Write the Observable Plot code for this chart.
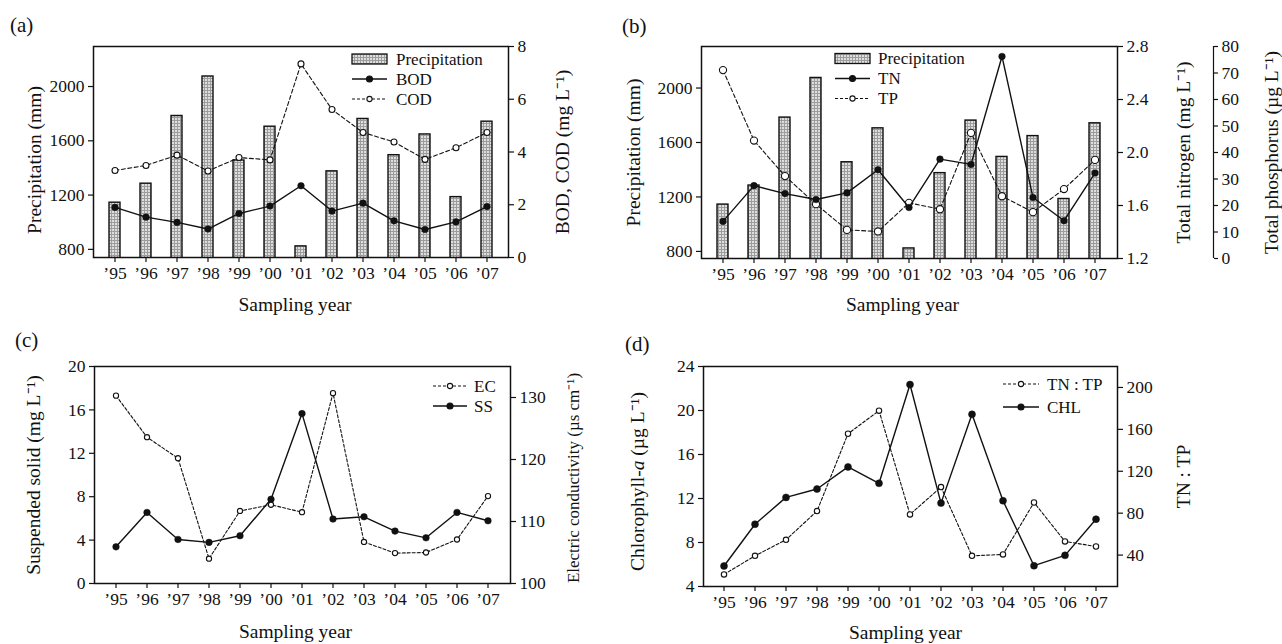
<!DOCTYPE html>
<html>
<head>
<meta charset="utf-8">
<script src="https://cdn.jsdelivr.net/npm/d3@7"></script>
<script src="https://cdn.jsdelivr.net/npm/@observablehq/plot@0.6"></script>
<style>
html, body { margin: 0; padding: 0; background: #fff; }
#chart { position: relative; width: 1282px; height: 644px; background: #fff; font-family: 'Liberation Serif', serif; color: #111; overflow: hidden; }
#chart svg { position: absolute; }
.lab { position: absolute; font-size: 21px; line-height: 21px; font-family: 'Liberation Serif', serif; color: #111; }
</style>
</head>
<body>
<div id="chart"></div>
<script>
// ---------------- data ----------------
const years = [1995, 1996, 1997, 1998, 1999, 2000, 2001, 2002, 2003, 2004, 2005, 2006, 2007];
const precipitation = [1144, 1284, 1783, 2074, 1455, 1704, 822, 1375, 1761, 1494, 1647, 1185, 1741];
const bod = [1.90, 1.53, 1.33, 1.08, 1.67, 1.95, 2.72, 1.76, 2.06, 1.39, 1.06, 1.35, 1.93];
const cod = [3.30, 3.49, 3.88, 3.28, 3.79, 3.70, 7.34, 5.61, 4.74, 4.38, 3.72, 4.16, 4.74];
const tn = [1.48, 1.75, 1.69, 1.645, 1.695, 1.87, 1.585, 1.95, 1.91, 2.725, 1.66, 1.485, 1.845];
const tp = [71.1, 44.5, 31.1, 20.5, 10.8, 10.2, 21.0, 18.6, 47.4, 23.5, 17.5, 26.2, 37.2];
const ss = [3.38, 6.55, 4.06, 3.79, 4.40, 7.76, 15.66, 5.94, 6.15, 4.83, 4.21, 6.55, 5.78];
const ec = [130.3, 123.6, 120.2, 104.0, 111.7, 112.7, 111.5, 130.7, 106.7, 104.9, 105.0, 107.1, 114.1];
const chl = [5.86, 9.66, 12.10, 12.86, 14.87, 13.38, 22.36, 11.58, 19.65, 11.80, 5.89, 6.83, 10.12];
const tntp = [21.5, 39.3, 54.6, 82.0, 155.8, 177.8, 78.8, 104.9, 39.3, 40.6, 90.2, 53.0, 48.2];

const precipTicks = [800, 1200, 1600, 2000];
const bodTicks = [0, 2, 4, 6, 8];
const tnTicks = [1.2, 1.6, 2.0, 2.4, 2.8];
const tpTicks = [0, 10, 20, 30, 40, 50, 60, 70, 80];
const ssTicks = [0, 4, 8, 12, 16, 20];
const ecTicks = [100, 110, 120, 130];
const chlTicks = [4, 8, 12, 16, 20, 24];
const tntpTicks = [40, 80, 120, 160, 200];

const rows = years.map((year, i) => ({
  year, precipitation: precipitation[i], bod: bod[i], cod: cod[i], tn: tn[i], tp: tp[i],
  ss: ss[i], ec: ec[i], chl: chl[i], tntp: tntp[i]
}));

// ---------------- helpers ----------------
const chart = document.getElementById("chart");
const INK = "#111";
const FONT = "'Liberation Serif', serif";

// pattern for stippled bars
const defs = d3.select(chart).append("svg").attr("width", 1).attr("height", 1).style("left", "0px").style("top", "0px");
const pat = defs.append("defs").append("pattern").attr("id", "stipple")
  .attr("patternUnits", "userSpaceOnUse").attr("width", 3).attr("height", 3);
pat.append("rect").attr("width", 3).attr("height", 3).attr("fill", "#dedede");
pat.append("rect").attr("width", 3).attr("height", 1).attr("fill", "#9c9c9c");
pat.append("rect").attr("width", 1).attr("height", 3).attr("fill", "#9c9c9c");

const baseStyle = { background: "transparent", fontFamily: FONT, fontSize: "17px", color: INK, overflow: "visible" };
const xBand = { type: "band", domain: years, paddingInner: 0.645, paddingOuter: 0.325, label: null };
const tickFmt = d => "\u2019" + String(d).slice(2);
const intFmt = d3.format("d");

function layer(left, top, opts) {
  const svg = Plot.plot({ style: { ...baseStyle }, ...opts });
  svg.style.position = "absolute";
  svg.style.left = left + "px";
  svg.style.top = top + "px";
  chart.appendChild(svg);
  return svg;
}

const axisCommon = { tickSize: 5, tickPadding: 4, label: null, stroke: INK, strokeWidth: 1.2, fill: INK, fontSize: 17.5 };
const title = (txt, o) => Plot.text([txt], { text: d => d, fill: INK, textAnchor: "middle", lineAnchor: "middle", fontSize: 19.5, ...o });
const solid = (key, r = 3.3) => [
  Plot.line(rows, { x: "year", y: key, stroke: INK, strokeWidth: 1.4 }),
  Plot.dot(rows, { x: "year", y: key, r, fill: INK, stroke: INK, strokeWidth: 0.5 })
];
const dashed = (key, r = 3, dash = "4,2.5") => [
  Plot.line(rows, { x: "year", y: key, stroke: INK, strokeWidth: 1.1, strokeDasharray: dash }),
  Plot.dot(rows, { x: "year", y: key, r, fill: "#fff", stroke: INK, strokeWidth: 1.1 })
];

// panel geometries
const gA = { width: 640, height: 322, marginLeft: 93, marginRight: 132, marginTop: 46, marginBottom: 65 };
const gB = { width: 642, height: 322, marginLeft: 61, marginRight: 165, marginTop: 46, marginBottom: 64 };
const gC = { width: 640, height: 322, marginLeft: 94, marginRight: 130, marginTop: 44, marginBottom: 61 };
const gD = { width: 642, height: 322, marginLeft: 63, marginRight: 165, marginTop: 44, marginBottom: 58 };

// ---------------- panel (a) ----------------
layer(0, 0, {
  ...gA,
  x: xBand,
  y: { domain: [740, 2295], label: null },
  marks: [
    Plot.barY(rows, { x: "year", y: "precipitation", fill: "url(#stipple)", stroke: INK, strokeWidth: 1.4, clip: true }),
    Plot.axisY({ ...axisCommon, ticks: precipTicks, tickFormat: intFmt }),
    Plot.axisX({ ...axisCommon, tickFormat: tickFmt }),
    Plot.frame({ stroke: INK, strokeWidth: 1.5 }),
    title("Precipitation (mm)", { frameAnchor: "left", rotate: -90, dx: -59, dy: 8 }),
    title("Sampling year", { frameAnchor: "bottom", dy: 47, dx: -6 })
  ]
});
layer(0, 0, {
  ...gA,
  x: { ...xBand, axis: null },
  y: { domain: [0, 8], label: null },
  marks: [
    ...dashed("cod", 3, "4,2.5"),
    ...solid("bod", 3.3),
    Plot.axisY({ ...axisCommon, anchor: "right", ticks: bodTicks }),
    title("BOD, COD (mg L\u207B\u00B9)", { frameAnchor: "right", rotate: -90, dx: 54 })
  ]
});

// ---------------- panel (b) ----------------
layer(640, 0, {
  ...gB,
  x: xBand,
  y: { domain: [748, 2305], label: null },
  marks: [
    Plot.barY(rows, { x: "year", y: "precipitation", fill: "url(#stipple)", stroke: INK, strokeWidth: 1.4, clip: true }),
    Plot.axisY({ ...axisCommon, ticks: precipTicks, tickFormat: intFmt }),
    Plot.axisX({ ...axisCommon, tickFormat: tickFmt }),
    Plot.frame({ stroke: INK, strokeWidth: 1.5 }),
    title("Precipitation (mm)", { frameAnchor: "left", rotate: -90, dx: -68, dy: 0 }),
    title("Sampling year", { frameAnchor: "bottom", dy: 46, dx: -7 })
  ]
});
layer(640, 0, {
  ...gB,
  x: { ...xBand, axis: null },
  y: { domain: [0, 80], label: null, axis: null },
  marks: [ ...dashed("tp", 3.6, "4,2.5") ]
});
layer(640, 0, {
  ...gB,
  x: { ...xBand, axis: null },
  y: { domain: [1.2, 2.8], label: null },
  marks: [
    ...solid("tn", 3.3),
    Plot.axisY({ ...axisCommon, anchor: "right", ticks: tnTicks, tickFormat: d3.format(".1f") }),
    title("Total nitrogen (mg L\u207B\u00B9)", { frameAnchor: "right", rotate: -90, dx: 66 })
  ]
});
// separate total phosphorus axis
layer(640, 0, {
  width: 642, height: 322, marginLeft: 0, marginRight: 69, marginTop: 46, marginBottom: 64,
  x: { domain: [0, 1], axis: null },
  y: { domain: [0, 80], label: null },
  marks: [
    Plot.ruleX([1], { stroke: INK, strokeWidth: 1.2 }),
    Plot.axisY({ ...axisCommon, anchor: "right", ticks: tpTicks, tickSize: 4 }),
    title("Total phosphorus (\u00B5g L\u207B\u00B9)", { frameAnchor: "right", rotate: -90, dx: 58 })
  ]
});

// ---------------- panel (c) ----------------
layer(0, 322, {
  ...gC,
  x: xBand,
  y: { domain: [0, 20], label: null },
  marks: [
    ...solid("ss", 3.3),
    Plot.axisY({ ...axisCommon, ticks: ssTicks }),
    Plot.axisX({ ...axisCommon, tickFormat: tickFmt }),
    Plot.frame({ stroke: INK, strokeWidth: 1.5 }),
    title("Suspended solid (mg L\u207B\u00B9)", { frameAnchor: "left", rotate: -90, dx: -61, dy: 0 }),
    title("Sampling year", { frameAnchor: "bottom", dy: 48, dx: -7 })
  ]
});
layer(0, 322, {
  ...gC,
  x: { ...xBand, axis: null },
  y: { domain: [100, 135], label: null },
  marks: [
    ...dashed("ec", 2.6, "3,2"),
    Plot.axisY({ ...axisCommon, anchor: "right", ticks: ecTicks }),
    title("Electric conductivity (\u00B5s cm\u207B\u00B9)", { frameAnchor: "right", rotate: -90, dx: 63, dy: 3, fontSize: 17 })
  ]
});

// ---------------- panel (d) ----------------
layer(640, 322, {
  ...gD,
  x: xBand,
  y: { domain: [4, 24], label: null },
  marks: [
    ...solid("chl", 3.5),
    Plot.axisY({ ...axisCommon, ticks: chlTicks }),
    Plot.axisX({ ...axisCommon, tickFormat: tickFmt }),
    Plot.frame({ stroke: INK, strokeWidth: 1.5 }),
    title("Chlorophyll-a (\u00B5g L\u207B\u00B9)", { frameAnchor: "left", rotate: -90, dx: -66, dy: 5 }),
    title("Sampling year", { frameAnchor: "bottom", dy: 46, dx: -5 })
  ]
});
layer(640, 322, {
  ...gD,
  x: { ...xBand, axis: null },
  y: { domain: [10, 220], label: null },
  marks: [
    ...dashed("tntp", 2.7, "3,2"),
    Plot.axisY({ ...axisCommon, anchor: "right", ticks: tntpTicks }),
    title("TN : TP", { frameAnchor: "right", rotate: -90, dx: 66 })
  ]
});

// italic "a" in Chlorophyll-a
d3.select(chart).selectAll("text").each(function () {
  if (this.textContent.startsWith("Chlorophyll-a")) {
    const t = d3.select(this);
    t.text(null);
    t.append("tspan").text("Chlorophyll-");
    t.append("tspan").attr("font-style", "italic").text("a");
    t.append("tspan").text(" (\u00B5g L\u207B\u00B9)");
  }
});

// ---------------- legends ----------------
const leg = d3.select(chart).append("svg").attr("width", 1282).attr("height", 644)
  .style("left", "0px").style("top", "0px").style("pointer-events", "none")
  .style("font-family", FONT).style("font-size", "17px");
function legend(x0, x1, tx, items) {
  for (const it of items) {
    const cy = it.y;
    if (it.kind === "bar") {
      leg.append("rect").attr("x", x0).attr("y", cy - 5).attr("width", x1 - x0).attr("height", 10)
        .attr("fill", "url(#stipple)").attr("stroke", INK).attr("stroke-width", 1.3);
    } else {
      leg.append("line").attr("x1", x0).attr("x2", x1).attr("y1", cy).attr("y2", cy)
        .attr("stroke", INK).attr("stroke-width", it.kind === "solid" ? 1.4 : 1.1)
        .attr("stroke-dasharray", it.kind === "solid" ? null : "3,2");
      leg.append("circle").attr("cx", (x0 + x1) / 2).attr("cy", cy).attr("r", it.kind === "solid" ? 3 : 2.6)
        .attr("fill", it.kind === "solid" ? INK : "#fff").attr("stroke", INK).attr("stroke-width", 1.1);
    }
    leg.append("text").attr("x", tx).attr("y", cy).attr("dy", "0.35em").attr("fill", INK).text(it.label);
  }
}
legend(352, 387, 396, [
  { kind: "bar", label: "Precipitation", y: 59 },
  { kind: "solid", label: "BOD", y: 79 },
  { kind: "dashed", label: "COD", y: 99 }
]);
legend(835, 870, 878, [
  { kind: "bar", label: "Precipitation", y: 58.5 },
  { kind: "solid", label: "TN", y: 78.5 },
  { kind: "dashed", label: "TP", y: 98.5 }
]);
legend(433, 467, 474, [
  { kind: "dashed", label: "EC", y: 386 },
  { kind: "solid", label: "SS", y: 406 }
]);
legend(1003, 1039, 1047, [
  { kind: "dashed", label: "TN : TP", y: 384 },
  { kind: "solid", label: "CHL", y: 407 }
]);

// panel letters
[["(a)", 10, 15], ["(b)", 622, 16], ["(c)", 15, 330], ["(d)", 625, 334]].forEach(([t, x, y]) => {
  const d = document.createElement("div");
  d.className = "lab";
  d.style.left = x + "px";
  d.style.top = y + "px";
  d.textContent = t;
  chart.appendChild(d);
});
</script>
</body>
</html>
